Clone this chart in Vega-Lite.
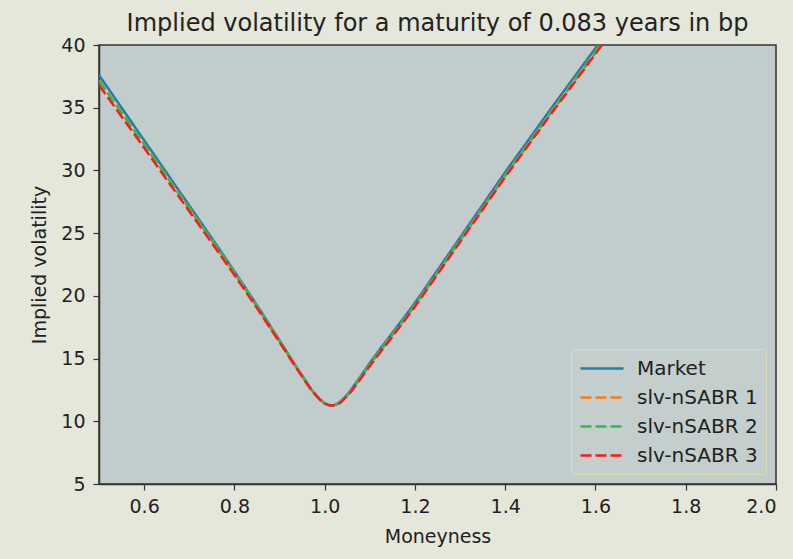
{
  "$schema": "https://vega.github.io/schema/vega-lite/v6.json",
  "width": 677,
  "height": 439,
  "autosize": {"type": "none"},
  "padding": {"left": 99, "top": 45, "right": 17, "bottom": 75},
  "background": "#e4e7da",
  "title": {
    "text": "Implied volatility for a maturity of 0.083 years in bp",
    "font": "DejaVu Sans",
    "fontSize": 24,
    "fontWeight": "normal",
    "color": "#222222",
    "anchor": "middle",
    "offset": 0
  },
  "config": {
    "view": {"fill": "#c1cccc", "stroke": "#333333", "strokeWidth": 1.5},
    "axis": {
      "labelFont": "DejaVu Sans",
      "titleFont": "DejaVu Sans",
      "labelFontSize": 19,
      "titleFontSize": 19,
      "titleFontWeight": "normal",
      "labelColor": "#222222",
      "titleColor": "#222222",
      "domainColor": "#333333",
      "domainWidth": 1.5,
      "tickColor": "#333333",
      "tickWidth": 1.2,
      "tickSize": 6,
      "grid": false
    },
    "legend": {
      "labelFont": "DejaVu Sans"
    }
  },
  "data": {
    "values": [
      {"m": 0.5, "vol": 37.6, "series": "Market"},
      {"m": 0.55, "vol": 35.0, "series": "Market"},
      {"m": 0.6, "vol": 32.4, "series": "Market"},
      {"m": 0.65, "vol": 29.8, "series": "Market"},
      {"m": 0.7, "vol": 27.2, "series": "Market"},
      {"m": 0.75, "vol": 24.6, "series": "Market"},
      {"m": 0.8, "vol": 21.95, "series": "Market"},
      {"m": 0.85, "vol": 19.25, "series": "Market"},
      {"m": 0.9, "vol": 16.45, "series": "Market"},
      {"m": 0.95, "vol": 13.65, "series": "Market"},
      {"m": 0.975, "vol": 12.35, "series": "Market"},
      {"m": 1.0, "vol": 11.45, "series": "Market"},
      {"m": 1.015, "vol": 11.27, "series": "Market"},
      {"m": 1.03, "vol": 11.45, "series": "Market"},
      {"m": 1.05, "vol": 12.15, "series": "Market"},
      {"m": 1.075, "vol": 13.35, "series": "Market"},
      {"m": 1.1, "vol": 14.65, "series": "Market"},
      {"m": 1.15, "vol": 17.05, "series": "Market"},
      {"m": 1.2, "vol": 19.45, "series": "Market"},
      {"m": 1.25, "vol": 22.05, "series": "Market"},
      {"m": 1.3, "vol": 24.65, "series": "Market"},
      {"m": 1.35, "vol": 27.25, "series": "Market"},
      {"m": 1.4, "vol": 29.85, "series": "Market"},
      {"m": 1.45, "vol": 32.35, "series": "Market"},
      {"m": 1.5, "vol": 34.85, "series": "Market"},
      {"m": 1.55, "vol": 37.3, "series": "Market"},
      {"m": 1.6, "vol": 39.75, "series": "Market"},
      {"m": 1.65, "vol": 42.2, "series": "Market"},
      {"m": 1.7, "vol": 44.6, "series": "Market"},

      {"m": 0.5, "vol": 37.2, "series": "slv-nSABR 1"},
      {"m": 0.55, "vol": 34.65, "series": "slv-nSABR 1"},
      {"m": 0.6, "vol": 32.1, "series": "slv-nSABR 1"},
      {"m": 0.65, "vol": 29.55, "series": "slv-nSABR 1"},
      {"m": 0.7, "vol": 27.0, "series": "slv-nSABR 1"},
      {"m": 0.75, "vol": 24.45, "series": "slv-nSABR 1"},
      {"m": 0.8, "vol": 21.85, "series": "slv-nSABR 1"},
      {"m": 0.85, "vol": 19.17, "series": "slv-nSABR 1"},
      {"m": 0.9, "vol": 16.4, "series": "slv-nSABR 1"},
      {"m": 0.95, "vol": 13.62, "series": "slv-nSABR 1"},
      {"m": 0.975, "vol": 12.33, "series": "slv-nSABR 1"},
      {"m": 1.0, "vol": 11.44, "series": "slv-nSABR 1"},
      {"m": 1.015, "vol": 11.27, "series": "slv-nSABR 1"},
      {"m": 1.03, "vol": 11.42, "series": "slv-nSABR 1"},
      {"m": 1.05, "vol": 12.08, "series": "slv-nSABR 1"},
      {"m": 1.075, "vol": 13.25, "series": "slv-nSABR 1"},
      {"m": 1.1, "vol": 14.53, "series": "slv-nSABR 1"},
      {"m": 1.15, "vol": 16.9, "series": "slv-nSABR 1"},
      {"m": 1.2, "vol": 19.28, "series": "slv-nSABR 1"},
      {"m": 1.25, "vol": 21.86, "series": "slv-nSABR 1"},
      {"m": 1.3, "vol": 24.45, "series": "slv-nSABR 1"},
      {"m": 1.35, "vol": 27.03, "series": "slv-nSABR 1"},
      {"m": 1.4, "vol": 29.62, "series": "slv-nSABR 1"},
      {"m": 1.45, "vol": 32.1, "series": "slv-nSABR 1"},
      {"m": 1.5, "vol": 34.59, "series": "slv-nSABR 1"},
      {"m": 1.55, "vol": 37.02, "series": "slv-nSABR 1"},
      {"m": 1.6, "vol": 39.46, "series": "slv-nSABR 1"},
      {"m": 1.65, "vol": 41.9, "series": "slv-nSABR 1"},
      {"m": 1.7, "vol": 44.3, "series": "slv-nSABR 1"},

      {"m": 0.5, "vol": 37.15, "series": "slv-nSABR 2"},
      {"m": 0.55, "vol": 34.6, "series": "slv-nSABR 2"},
      {"m": 0.6, "vol": 32.06, "series": "slv-nSABR 2"},
      {"m": 0.65, "vol": 29.52, "series": "slv-nSABR 2"},
      {"m": 0.7, "vol": 26.97, "series": "slv-nSABR 2"},
      {"m": 0.75, "vol": 24.42, "series": "slv-nSABR 2"},
      {"m": 0.8, "vol": 21.83, "series": "slv-nSABR 2"},
      {"m": 0.85, "vol": 19.15, "series": "slv-nSABR 2"},
      {"m": 0.9, "vol": 16.38, "series": "slv-nSABR 2"},
      {"m": 0.95, "vol": 13.61, "series": "slv-nSABR 2"},
      {"m": 0.975, "vol": 12.32, "series": "slv-nSABR 2"},
      {"m": 1.0, "vol": 11.43, "series": "slv-nSABR 2"},
      {"m": 1.015, "vol": 11.26, "series": "slv-nSABR 2"},
      {"m": 1.03, "vol": 11.41, "series": "slv-nSABR 2"},
      {"m": 1.05, "vol": 12.06, "series": "slv-nSABR 2"},
      {"m": 1.075, "vol": 13.23, "series": "slv-nSABR 2"},
      {"m": 1.1, "vol": 14.5, "series": "slv-nSABR 2"},
      {"m": 1.15, "vol": 16.87, "series": "slv-nSABR 2"},
      {"m": 1.2, "vol": 19.25, "series": "slv-nSABR 2"},
      {"m": 1.25, "vol": 21.83, "series": "slv-nSABR 2"},
      {"m": 1.3, "vol": 24.41, "series": "slv-nSABR 2"},
      {"m": 1.35, "vol": 26.99, "series": "slv-nSABR 2"},
      {"m": 1.4, "vol": 29.57, "series": "slv-nSABR 2"},
      {"m": 1.45, "vol": 32.05, "series": "slv-nSABR 2"},
      {"m": 1.5, "vol": 34.53, "series": "slv-nSABR 2"},
      {"m": 1.55, "vol": 36.96, "series": "slv-nSABR 2"},
      {"m": 1.6, "vol": 39.4, "series": "slv-nSABR 2"},
      {"m": 1.65, "vol": 41.84, "series": "slv-nSABR 2"},
      {"m": 1.7, "vol": 44.24, "series": "slv-nSABR 2"},

      {"m": 0.5, "vol": 36.8, "series": "slv-nSABR 3"},
      {"m": 0.55, "vol": 34.3, "series": "slv-nSABR 3"},
      {"m": 0.6, "vol": 31.8, "series": "slv-nSABR 3"},
      {"m": 0.65, "vol": 29.27, "series": "slv-nSABR 3"},
      {"m": 0.7, "vol": 26.75, "series": "slv-nSABR 3"},
      {"m": 0.75, "vol": 24.22, "series": "slv-nSABR 3"},
      {"m": 0.8, "vol": 21.65, "series": "slv-nSABR 3"},
      {"m": 0.85, "vol": 19.02, "series": "slv-nSABR 3"},
      {"m": 0.9, "vol": 16.3, "series": "slv-nSABR 3"},
      {"m": 0.95, "vol": 13.57, "series": "slv-nSABR 3"},
      {"m": 0.975, "vol": 12.3, "series": "slv-nSABR 3"},
      {"m": 1.0, "vol": 11.42, "series": "slv-nSABR 3"},
      {"m": 1.015, "vol": 11.25, "series": "slv-nSABR 3"},
      {"m": 1.03, "vol": 11.38, "series": "slv-nSABR 3"},
      {"m": 1.05, "vol": 12.02, "series": "slv-nSABR 3"},
      {"m": 1.075, "vol": 13.15, "series": "slv-nSABR 3"},
      {"m": 1.1, "vol": 14.4, "series": "slv-nSABR 3"},
      {"m": 1.15, "vol": 16.75, "series": "slv-nSABR 3"},
      {"m": 1.2, "vol": 19.15, "series": "slv-nSABR 3"},
      {"m": 1.25, "vol": 21.72, "series": "slv-nSABR 3"},
      {"m": 1.3, "vol": 24.3, "series": "slv-nSABR 3"},
      {"m": 1.35, "vol": 26.88, "series": "slv-nSABR 3"},
      {"m": 1.4, "vol": 29.48, "series": "slv-nSABR 3"},
      {"m": 1.45, "vol": 31.95, "series": "slv-nSABR 3"},
      {"m": 1.5, "vol": 34.43, "series": "slv-nSABR 3"},
      {"m": 1.55, "vol": 36.86, "series": "slv-nSABR 3"},
      {"m": 1.6, "vol": 39.3, "series": "slv-nSABR 3"},
      {"m": 1.65, "vol": 41.73, "series": "slv-nSABR 3"},
      {"m": 1.7, "vol": 44.12, "series": "slv-nSABR 3"}
    ]
  },
  "mark": {"type": "line", "clip": true, "strokeWidth": 2.5, "interpolate": "monotone"},
  "encoding": {
    "x": {
      "field": "m",
      "type": "quantitative",
      "title": "Moneyness",
      "scale": {"domain": [0.5, 2.0], "nice": false, "zero": false},
      "axis": {"values": [0.6, 0.8, 1.0, 1.2, 1.4, 1.6, 1.8, 2.0], "format": ".1f", "labelPadding": 7, "titlePadding": 11}
    },
    "y": {
      "field": "vol",
      "type": "quantitative",
      "title": "Implied volatility",
      "scale": {"domain": [5, 40], "nice": false, "zero": false},
      "axis": {"values": [5, 10, 15, 20, 25, 30, 35, 40], "labelPadding": 8, "titlePadding": 11}
    },
    "color": {
      "field": "series",
      "type": "nominal",
      "scale": {
        "domain": ["Market", "slv-nSABR 1", "slv-nSABR 2", "slv-nSABR 3"],
        "range": ["#1f7eae", "#ff7f0e", "#2dbd4e", "#ff1a1a"]
      },
      "legend": {
        "title": null,
        "orient": "none",
        "legendX": 472,
        "legendY": 304,
        "symbolType": "M-1,0H3.3",
        "symbolSize": 400,
        "symbolStrokeWidth": 2.5,
        "labelFontSize": 20,
        "labelColor": "#222222",
        "labelOffset": 35,
        "rowPadding": 7,
        "padding": 8,
        "fillColor": "#c3cecd",
        "strokeColor": "#dcdcb6",
        "cornerRadius": 3
      }
    },
    "strokeDash": {
      "field": "series",
      "type": "nominal",
      "scale": {
        "domain": ["Market", "slv-nSABR 1", "slv-nSABR 2", "slv-nSABR 3"],
        "range": [[1, 0], [11, 4], [11, 4], [11, 4]]
      },
      "legend": null
    }
  }
}
